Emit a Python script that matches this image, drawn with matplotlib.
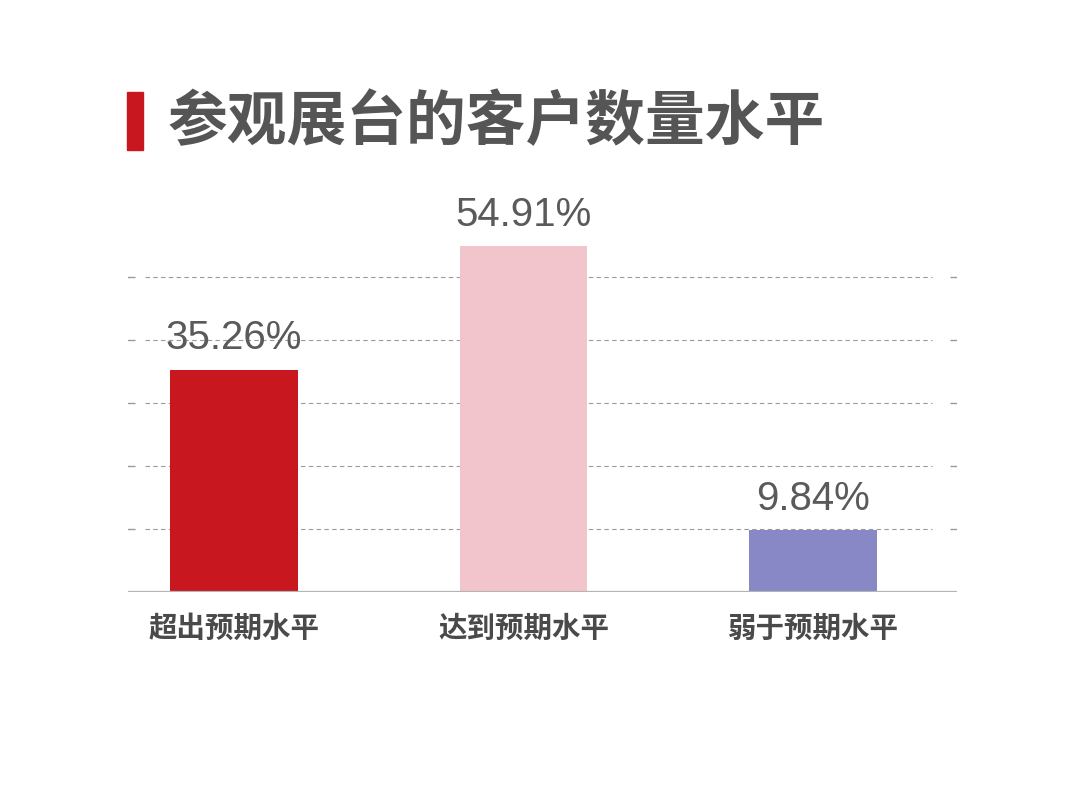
"""
Bar chart: 参观展台的客户数量水平 (share of booth-visitor levels vs expectation).
Saves out.png (1080x786).
"""
import matplotlib
matplotlib.use("Agg")
import matplotlib.pyplot as plt
from matplotlib.patches import Rectangle

plt.rcParams["font.family"] = ["Noto Sans CJK SC", "DejaVu Sans"]

# data
categories = ["超出预期水平", "达到预期水平", "弱于预期水平"]
shares = [35.26, 54.91, 9.84]
value_labels = ["35.26%", "54.91%", "9.84%"]
grid_levels = [10, 20, 30, 40, 50]
title = "参观展台的客户数量水平"

BAR_COLORS = ["#C8171E", "#F2C4CC", "#8788C5"]
C_TEXT = "#555555"
C_GRID = "#9a9a9a"

W, H = 1080, 786
fig = plt.figure(figsize=(W / 100, H / 100), dpi=100)
fig.patch.set_facecolor("white")

# axes placed in pixel terms: baseline at y=592, x from 128 to 957
ax = fig.add_axes([128 / W, (H - 592) / H, 829 / W, 378 / H])
ax.set_xlim(-0.366, 2.497)
ax.set_ylim(0, 60)
for s in ax.spines.values():
    s.set_visible(False)
ax.set_xticks([]); ax.set_yticks([])

x = range(len(categories))
ax.bar(x, shares, width=0.44, color=BAR_COLORS, zorder=2)

# dashed guide lines with short solid caps at both ends
yt = ax.get_yaxis_transform()
ax.hlines(grid_levels, 0.02, 0.97, transform=yt, colors=C_GRID,
          lw=0.8, linestyles=(0, (4, 3)), zorder=1)
ax.hlines(grid_levels, -0.001, 0.008, transform=yt, colors=C_GRID, lw=1.0, zorder=1)
ax.hlines(grid_levels, 0.991, 1.0, transform=yt, colors=C_GRID, lw=1.0, zorder=1)
ax.axhline(0, color="#b4b4b4", lw=1.6, zorder=3)

for xi, v, lab in zip(x, shares, value_labels):
    ax.annotate(lab, (xi, v), xytext=(0, 9), textcoords="offset points",
                ha="center", va="bottom", fontsize=29, color="#5a5a5a",
                family=["Liberation Sans", "DejaVu Sans"])

for xi, cat in zip(x, categories):
    ax.annotate(cat, (xi, 0), xytext=(0, -26.5), textcoords="offset points",
                ha="center", va="center", fontsize=20.5, fontweight="bold",
                color="#4a4a4a")

# title with red marker
fig.patches.append(Rectangle((127 / W, (H - 150) / H), 16 / W, 58 / H,
                             transform=fig.transFigure, color="#C8171E"))
fig.text(168 / W, (H - 123) / H, title, ha="left", va="center",
         fontsize=43, fontweight="heavy", color=C_TEXT)

fig.savefig("out.png", dpi=100)
